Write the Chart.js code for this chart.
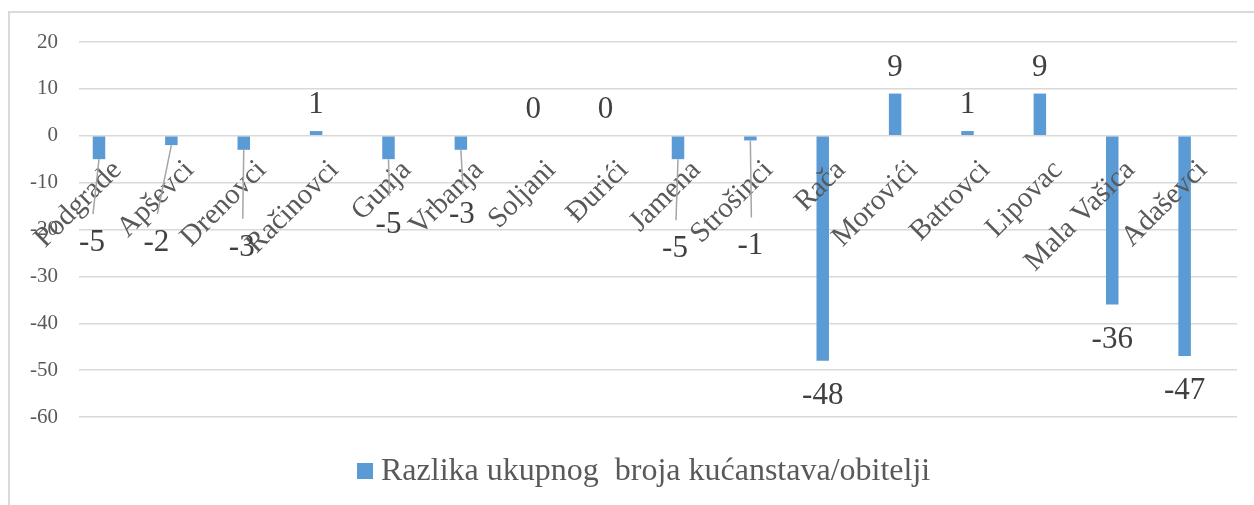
<!DOCTYPE html>
<html>
<head>
<meta charset="utf-8">
<script src="https://cdn.jsdelivr.net/npm/chart.js@4"></script>
<style>
    html, body { margin: 0; padding: 0; background: #fff; overflow: hidden; }
    #frame {
        position: absolute; left: 8px; top: 11px; width: 1300px; height: 600px;
        border-left: 2px solid #d9d9d9; border-top: 2px solid #d9d9d9;
    }
    #c { position: absolute; left: 0; top: 0; }
</style>
</head>
<body>
<div id="frame"></div>
<canvas id="c" width="1254" height="505"></canvas>
<script>
// Data
const categories = ['Podgrade', 'Apševci', 'Drenovci', 'Račinovci', 'Gunja', 'Vrbanja', 'Soljani', 'Đurići',
    'Jamena', 'Strošinci', 'Rača', 'Morovići', 'Batrovci', 'Lipovac', 'Mala Vašica', 'Adaševci'];
const differences = [-5, -2, -3, 1, -5, -3, 0, 0, -5, -1, -48, 9, 1, 9, -36, -47];
const yTicks = [20, 10, 0, -10, -20, -30, -40, -50, -60];
const seriesName = 'Razlika ukupnog  broja kućanstava/obitelji';

// Labels that Excel moved off the bar (pixel nudges, with leader lines)
const labelNudge = {
    0: [-7, 49], 1: [-15, 63], 2: [-2, 63], 4: [0, 31],
    5: [1, 30], 8: [-3, 55], 9: [0, 71]
};

const FONT = "'Liberation Serif', 'Times New Roman', serif";
const BAR = '#5b9bd5';

const labelsPlugin = {
    id: 'excelLabels',
    afterDatasetsDraw(chart) {
        const ctx = chart.ctx;
        const x = chart.scales.x, y = chart.scales.y;
        const y0 = y.getPixelForValue(0);
        const meta = chart.getDatasetMeta(0);
        ctx.save();

        // category labels, rotated, sitting on the zero line
        ctx.font = '29px ' + FONT;
        ctx.fillStyle = '#595959';
        ctx.textAlign = 'right';
        ctx.textBaseline = 'middle';
        categories.forEach((name, i) => {
            ctx.save();
            ctx.translate(x.getPixelForValue(i) + 2, y0 + 30);
            ctx.rotate(-Math.PI / 4);
            ctx.fillText(name, 0, 0);
            ctx.restore();
        });

        // data labels
        ctx.font = '31px ' + FONT;
        ctx.fillStyle = '#404040';
        ctx.textAlign = 'center';
        ctx.textBaseline = 'alphabetic';
        differences.forEach((v, i) => {
            const bar = meta.data[i];
            const end = y.getPixelForValue(v);
            let lx = bar.x;
            let ly = v >= 0 ? end - 18 : end + 43;
            const n = labelNudge[i];
            if (n) {
                lx += n[0];
                ly += n[1];
                ctx.strokeStyle = '#a6a6a6';
                ctx.lineWidth = 1.5;
                ctx.beginPath();
                ctx.moveTo(bar.x, end);
                ctx.lineTo(lx + 1, ly - 37);
                ctx.stroke();
            }
            ctx.fillText(String(v), lx, ly);
        });

        // legend
        const ds = chart.data.datasets[0];
        ctx.font = '32px ' + FONT;
        ctx.fillStyle = ds.backgroundColor;
        ctx.fillRect(357, 463, 16, 16);
        ctx.fillStyle = '#595959';
        ctx.textAlign = 'left';
        ctx.textBaseline = 'middle';
        ctx.fillText(ds.label, 381, 472);
        ctx.restore();
    }
};

new Chart(document.getElementById('c'), {
    type: 'bar',
    data: {
        labels: categories,
        datasets: [
            { label: seriesName, data: differences, backgroundColor: BAR,
              categoryPercentage: 0.895, barPercentage: 0.386 },
            // empty second series (keeps the bars left in each category, as in the source)
            { label: '', data: categories.map(() => null), backgroundColor: BAR,
              categoryPercentage: 0.895, barPercentage: 0.386 }
        ]
    },
    options: {
        responsive: false,
        animation: false,
        layout: { padding: { left: 0, top: 42, right: 17, bottom: 88 } },
        plugins: { legend: { display: false }, tooltip: { enabled: false } },
        scales: {
            x: { display: false },
            y: {
                min: -60, max: 20,
                afterFit(scale) { scale.width = 79; },
                afterBuildTicks(scale) { scale.ticks = yTicks.map(v => ({ value: v })); },
                grid: { color: '#d9d9d9', lineWidth: 1.5, drawTicks: false },
                border: { display: false },
                ticks: { color: '#595959', font: { family: FONT, size: 21 }, padding: 21 }
            }
        }
    },
    plugins: [labelsPlugin]
});
</script>
</body>
</html>
